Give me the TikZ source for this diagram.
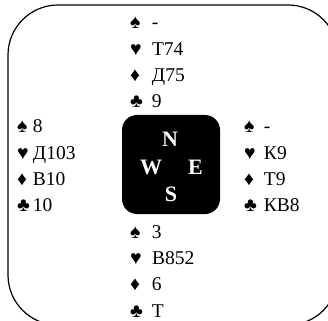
\documentclass[tikz,border=0pt]{standalone}
\usepackage{fontspec}
\setmainfont{Liberation Serif}
\usetikzlibrary{positioning}

% one hand: symbols column, then the cards
\newcommand\hand[5]{%
    \begin{tabular}[t]{@{}l@{\hspace{#1}}l@{}}
        ♠ & #2\\
        ♥ & #3\\
        ♦ & #4\\
        ♣ & #5
    \end{tabular}}

\begin{document}
\begin{tikzpicture}
[
    x=1pt, y=-1pt,
    hand/.style={anchor=base west, inner sep=0pt,
        font=\fontsize{19.5}{26.2}\selectfont},
    side/.style={text=white, inner sep=0pt,
        font=\fontsize{22}{22}\selectfont\bfseries}
]
    \useasboundingbox (0,0) rectangle (328,320);
    \clip (0,0) rectangle (328,320);

    % table
    \draw [line width=1.2pt, rounded corners=50pt] (8,5) rectangle (338,325);

    % board in the middle
    \node [fill=black, rounded corners=15pt, inner sep=0pt,
        minimum width=98pt, minimum height=99pt] (board) at (171,164.5) {};
    \node [side] (N) at (170,139) {N};
    \node [side] (W) at (151,167.5) {W};
    \node [side] (E) at (195.5,167.5) {E};
    \node [side] (S) at (171,194) {S};

    % the four hands
    \node [hand] (north) at (130,29) {\hand{9pt}{-}{Т74}{Д75}{9}};
    \node [hand] (west) at (17,133) {\hand{3pt}{8}{Д103}{В10}{10}};
    \node [hand] (east) at (244,133) {\hand{7pt}{-}{К9}{Т9}{КВ8}};
    \node [hand] (south) at (130,238.5) {\hand{9pt}{3}{В852}{6}{Т}};
\end{tikzpicture}
\end{document}
